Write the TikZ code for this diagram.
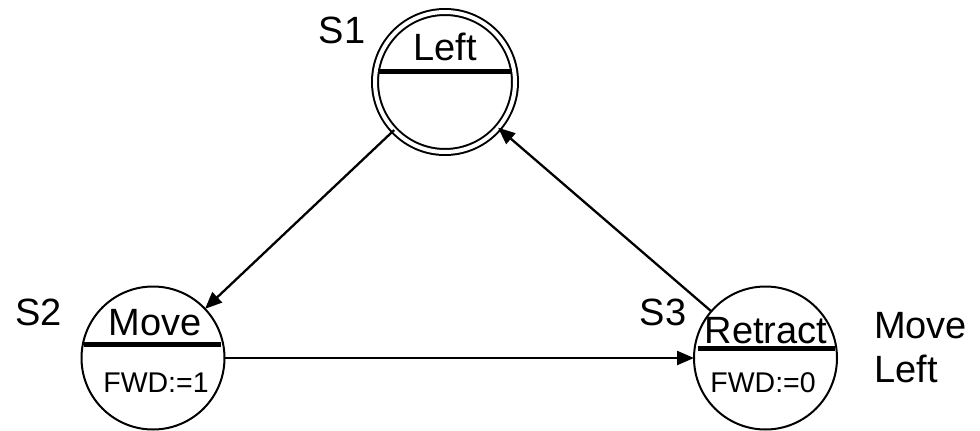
\documentclass[tikz,border=0pt]{standalone}
\usepackage{fontspec}
\setmainfont{Liberation Sans}
\usetikzlibrary{arrows.meta}
\begin{document}
\begin{tikzpicture}[x=1pt,y=-1pt,
  statebox/.style={circle,draw=black,line width=2pt,minimum size=143pt,inner sep=0pt,outer sep=0pt},
  initbox/.style={circle,draw=black,line width=2pt,double=white,double distance=4pt,minimum size=140pt,inner sep=0pt,outer sep=0pt},
  bar/.style={line width=5pt},
  sname/.style={font=\fontsize{38}{44}\selectfont,inner sep=0pt,anchor=base},
  action/.style={font=\fontsize{28.5}{32}\selectfont,inner sep=0pt,anchor=base},
  lab/.style={font=\fontsize{38}{44}\selectfont,inner sep=0pt,anchor=base},
  conn/.style={line width=2.3pt,-{Triangle[length=17pt,width=14pt]}}]
\useasboundingbox (0,0) rectangle (980,431);
\node[initbox] (S1) at (445,82) {};
\node[statebox] (S2) at (153,358) {};
\node[statebox] (S3) at (765.5,358) {};
\draw[bar] ([shift={(-67,-10.5)}]S1.center) -- ([shift={(67,-10.5)}]S1.center);
\draw[bar] ([shift={(-69,-13.5)}]S2.center) -- ([shift={(68,-13.5)}]S2.center);
\draw[bar] ([shift={(-68,-9.5)}]S3.center) -- ([shift={(69.5,-9.5)}]S3.center);
\node[sname] (n1) at (445,60) {Left};
\node[sname] (n2) at (155,335) {Move};
\node[sname] (n3) at (766,343) {Retract};
\node[action] (a2) at (156,392) {FWD:=1};
\node[action] (a3) at (763,392) {FWD:=0};
\node[lab] (l1) at (342,43) {S1};
\node[lab] (l2) at (38.5,325) {S2};
\node[lab] (l3) at (663,325) {S3};
\node[lab,anchor=base west] (m1) at (874,338) {Move};
\node[lab,anchor=base west] (m2) at (874,382) {Left};
\draw[conn] (S1) -- (S2);
\draw[conn] (S2) -- (S3);
\draw[conn] (S3) -- (S1);
\end{tikzpicture}
\end{document}
